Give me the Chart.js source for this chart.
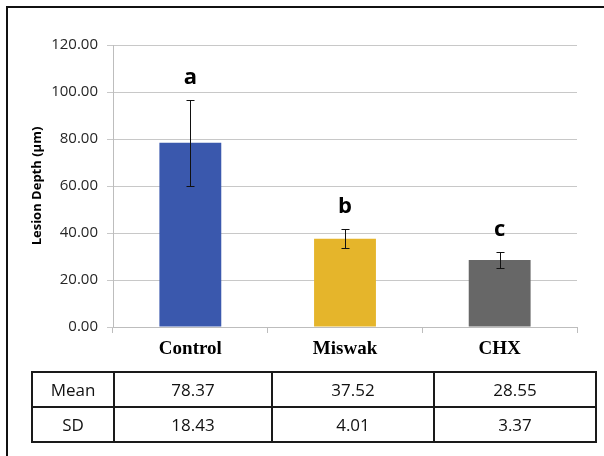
<!DOCTYPE html>
<html>
<head>
<meta charset="utf-8">
<script src="https://cdn.jsdelivr.net/npm/chart.js@4/dist/chart.umd.min.js"></script>
<style>
  html, body { margin: 0; padding: 0; background: #fff; }
  #wrap { position: relative; width: 604px; height: 456px; overflow: hidden; }
  #frame { position: absolute; left: 6px; top: 6px; width: 600px; height: 460px;
           border-top: 2px solid #111; border-left: 2px solid #111; }
  #chart { position: absolute; left: 0; top: 0; }
  #stats { position: absolute; left: 31px; top: 371px; width: 564px; table-layout: fixed;
           border-collapse: collapse; font-family: 'Open Sans', sans-serif; font-size: 17px; color: #111; }
  #stats td { border: 2px solid #1a1a1a; text-align: center; height: 35px; padding: 0; box-sizing: border-box; }
</style>
</head>
<body>
<div id="wrap">
  <div id="frame"></div>
  <canvas id="chart" width="604" height="456"></canvas>
  <table id="stats"></table>
</div>
<script>
// Lesion depth by treatment group
const categories = ['Control', 'Miswak', 'CHX'];
const means = [78.37, 37.52, 28.55];
const sds = [18.43, 4.01, 3.37];
const letters = ['a', 'b', 'c'];
const barColors = ['#3a58ad', '#e5b52b', '#676767'];
const rowLabels = ['Mean', 'SD'];

// Table under the chart
const table = document.getElementById('stats');
const colWidths = [82, 158, 162, 162];
[means, sds].forEach((vals, r) => {
    const tr = document.createElement('tr');
    const head = document.createElement('td');
    head.textContent = rowLabels[r];
    head.style.width = colWidths[0] + 'px';
    tr.appendChild(head);
    vals.forEach((v, i) => {
        const td = document.createElement('td');
        td.textContent = v.toFixed(2);
        td.style.width = colWidths[i + 1] + 'px';
        tr.appendChild(td);
    });
    table.appendChild(tr);
});

// Error bars and significance letters
const errorBars = {
    id: 'errorBars',
    afterDatasetsDraw(chart) {
        const { ctx, scales: { y } } = chart;
        const meta = chart.getDatasetMeta(0);
        ctx.save();
        ctx.strokeStyle = '#111';
        ctx.lineWidth = 1;
        meta.data.forEach((bar, i) => {
            const px = Math.round(bar.x) + 0.5;
            const top = Math.round(y.getPixelForValue(means[i] + sds[i])) + 0.5;
            const bot = Math.round(y.getPixelForValue(means[i] - sds[i])) + 0.5;
            ctx.beginPath();
            ctx.moveTo(px, top); ctx.lineTo(px, bot);
            ctx.moveTo(px - 4, top); ctx.lineTo(px + 4, top);
            ctx.moveTo(px - 4, bot); ctx.lineTo(px + 4, bot);
            ctx.stroke();

            ctx.fillStyle = '#000';
            ctx.font = 'bold 22px "Open Sans"';
            ctx.textAlign = 'center';
            ctx.textBaseline = 'alphabetic';
            ctx.fillText(letters[i], bar.x, top - 17);
        });
        ctx.restore();
    }
};

const ctx = document.getElementById('chart').getContext('2d');
new Chart(ctx, {
    type: 'bar',
    data: {
        labels: categories,
        datasets: [{
            data: means,
            backgroundColor: barColors,
            borderWidth: 0,
            barPercentage: 0.4,
            categoryPercentage: 1.0
        }]
    },
    options: {
        responsive: false,
        animation: false,
        layout: { padding: { top: 45, right: 27, left: 0, bottom: 0 } },
        plugins: { legend: { display: false }, tooltip: { enabled: false } },
        scales: {
            x: {
                afterFit: s => { s.height = 129; },
                grid: { drawOnChartArea: false, drawTicks: true, tickLength: 6, color: '#bdbdbd' },
                border: { color: '#bdbdbd' },
                ticks: {
                    padding: 5,
                    color: '#000',
                    font: { family: '"Liberation Serif", serif', size: 19, weight: 'bold' }
                }
            },
            y: {
                min: 0,
                max: 120,
                afterFit: s => { s.width = 113; },
                grid: { color: '#c8c8c8', tickLength: 6 },
                border: { color: '#bdbdbd' },
                ticks: {
                    stepSize: 20,
                    padding: 9,
                    color: '#262626',
                    font: { family: '"Open Sans"', size: 15 },
                    callback: v => v.toFixed(2)
                },
                title: {
                    display: true,
                    text: 'Lesion Depth (µm)',
                    color: '#000',
                    font: { family: '"Open Sans"', size: 13, weight: 'bold' },
                    padding: { top: 29, bottom: 0 }
                }
            }
        }
    },
    plugins: [errorBars]
});
</script>
</body>
</html>
